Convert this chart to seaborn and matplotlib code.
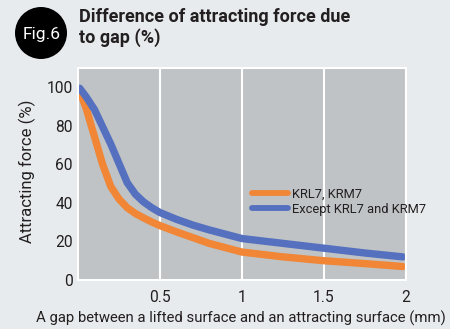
import matplotlib
matplotlib.use("Agg")
import matplotlib.pyplot as plt
import seaborn as sns
import pandas as pd
from matplotlib.patches import Circle, Rectangle
from matplotlib.transforms import IdentityTransform

gap_mm = [0.01, 0.05, 0.1, 0.15, 0.2, 0.25, 0.3, 0.35, 0.4, 0.45, 0.5, 0.6, 0.7, 0.8, 1.0, 1.25, 1.5, 1.75, 1.98]
krl7_krm7 = [98, 89, 74.5, 60, 48.5, 42, 37.5, 34.5, 32.2, 30.1, 28.2, 25, 22, 19, 14.5, 12, 10, 8.5, 7]
except_krl7 = [99.5, 95, 88.5, 79.5, 70.5, 60.5, 50.5, 44.5, 40.5, 37.5, 35, 31.5, 28.5, 26, 21.5, 19, 16.5, 14, 12]
series_names = ["KRL7, KRM7", "Except KRL7 and KRM7"]
x_ticks = [0.5, 1, 1.5, 2]
x_tick_labels = ["0.5", "1", "1.5", "2"]
y_ticks = [0, 20, 40, 60, 80, 100]

df = pd.DataFrame({
    "gap": gap_mm * 2,
    "force": krl7_krm7 + except_krl7,
    "series": [series_names[0]] * len(gap_mm) + [series_names[1]] * len(gap_mm),
})

sns.set_theme(style="white")
plt.rcParams["font.family"] = ["Roboto", "DejaVu Sans"]

BG = "#e8ebee"
TXT = "#231f20"
fig = plt.figure(figsize=(4.57, 3.29), dpi=100, facecolor=BG)
fig.patches.append(Rectangle((450 / 457, 0), 7 / 457, 1, transform=fig.transFigure,
                             facecolor="white", edgecolor="none", zorder=0))
ax = fig.add_axes([78 / 457, 1 - 280 / 329, 328 / 457, 212 / 329])
ax.set_facecolor("#bfc3c5")

palette = {series_names[0]: "#f08636", series_names[1]: "#5470bf"}
sns.lineplot(data=df, x="gap", y="force", hue="series", palette=palette,
             linewidth=5.3, ax=ax, solid_capstyle="round", solid_joinstyle="round",
             legend=True)

ax.set_xlim(0, 2)
ax.set_ylim(0, 110)
ax.set_xticks(x_ticks)
ax.set_xticklabels(x_tick_labels)
ax.set_yticks(y_ticks)
ax.grid(axis="x", color="white", linewidth=1.5)
ax.grid(axis="y", visible=False)
for s in ax.spines.values():
    s.set_color("white")
    s.set_linewidth(1.5)
ax.tick_params(axis="both", length=0, labelsize=11.2, colors=TXT)
ax.tick_params(axis="x", pad=7.5)
ax.tick_params(axis="y", pad=3.6)
ax.set_xlabel("A gap between a lifted surface and an attracting surface (mm)",
              fontsize=10.7, color=TXT)
ax.xaxis.set_label_coords(0.497, -0.145)
ax.set_ylabel("Attracting force (%)", fontsize=12, color=TXT)
ax.yaxis.set_label_coords(-0.128, 0.514)

leg = ax.legend(loc="center left", bbox_to_anchor=(0.530, 0.370), frameon=False,
                fontsize=9.3, handlelength=2.8, handletextpad=0.3,
                labelspacing=0.15, borderaxespad=0, borderpad=0)
for t in leg.get_texts():
    t.set_color(TXT)
for l in leg.get_lines():
    l.set_linewidth(4.2)

fig.patches.append(Circle((41, 329 - 33), 26, transform=IdentityTransform(),
                          facecolor="black", edgecolor="none"))
fig.text(42 / 457, 1 - 34.5 / 329, "Fig.6", color="white", fontsize=12.5,
         ha="center", va="center")
fig.text(79 / 457, 1 - 8 / 329, "Difference of attracting force due\nto gap (%)",
         color=TXT, fontsize=13, fontweight="bold", ha="left", va="top", linespacing=1.15)

fig.savefig("out.png", dpi=100, facecolor=BG)
